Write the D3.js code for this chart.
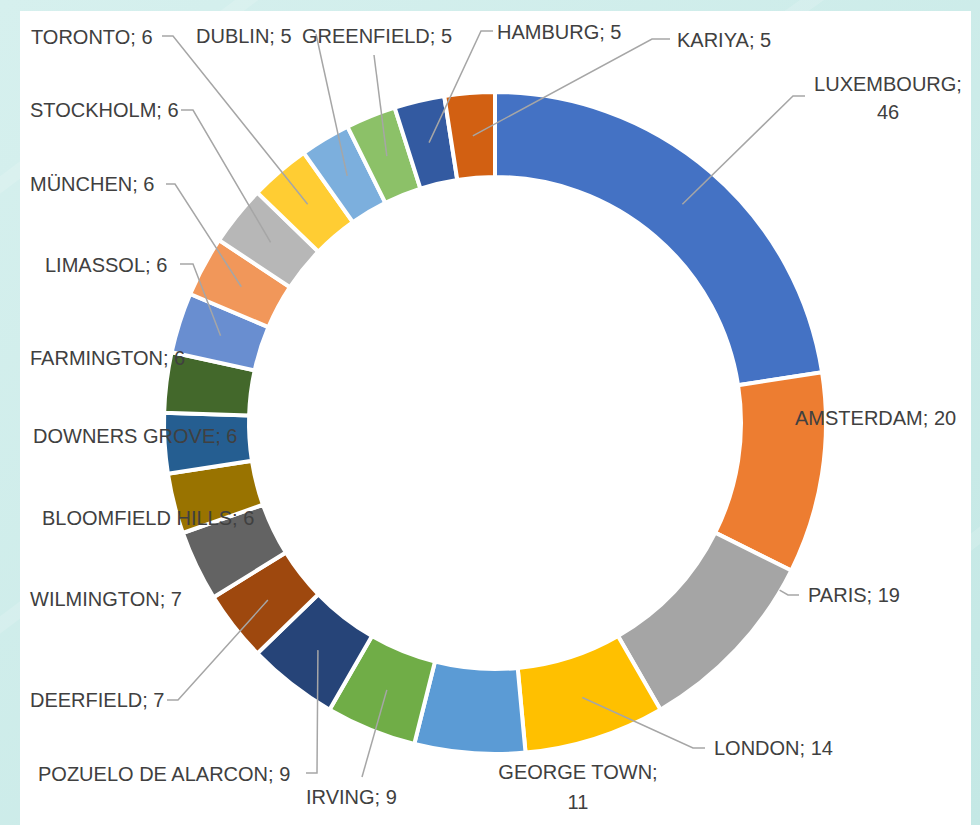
<!DOCTYPE html>
<html>
<head>
<meta charset="utf-8">
<script src="https://cdn.jsdelivr.net/npm/d3@7"></script>
<style>
  html, body { margin: 0; padding: 0; background: #cdeceA; }
  svg { display: block; }
</style>
</head>
<body>
<svg id="chart" width="980" height="825"></svg>
<script>
// ---- data ----
const categories = ["LUXEMBOURG", "AMSTERDAM", "PARIS", "LONDON", "GEORGE TOWN", "IRVING",
  "POZUELO DE ALARCON", "DEERFIELD", "WILMINGTON", "BLOOMFIELD HILLS", "DOWNERS GROVE",
  "FARMINGTON", "LIMASSOL", "MÜNCHEN", "STOCKHOLM", "TORONTO", "DUBLIN", "GREENFIELD",
  "HAMBURG", "KARIYA"];
const values = [46, 20, 19, 14, 11, 9, 9, 7, 7, 6, 6, 6, 6, 6, 6, 6, 5, 5, 5, 5];
const colors = ["#4472C4", "#ED7D31", "#A5A5A5", "#FFC000", "#5B9BD5", "#70AD47",
  "#264478", "#9E480E", "#636363", "#997300", "#255E91", "#43682B", "#698ED0",
  "#F1975A", "#B7B7B7", "#FFCD33", "#7CAFDD", "#8CC168", "#335AA1", "#D26012"];

// ---- label layout (text anchor x, centre y, anchor, line break, leader elbow/end) ----
const labelLayout = {
  "LUXEMBOURG":         {x: 888, y: 84,  anchor: "middle", split: true, dy2: 28, elbow: [793, 96], end: 805},
  "AMSTERDAM":          {x: 795, y: 418, anchor: "start"},
  "PARIS":              {x: 808, y: 595, anchor: "start", elbow: [788, 595], end: 799, fromEdge: true},
  "LONDON":             {x: 714, y: 748, anchor: "start", elbow: [693, 748], end: 705},
  "GEORGE TOWN":        {x: 578, y: 772, anchor: "middle", split: true, dy2: 30},
  "IRVING":             {x: 306, y: 797, anchor: "start", elbow: [362, 777]},
  "POZUELO DE ALARCON": {x: 38,  y: 774, anchor: "start", elbow: [317, 773], end: 306},
  "DEERFIELD":          {x: 30,  y: 700, anchor: "start", elbow: [178, 700], end: 167},
  "WILMINGTON":         {x: 30,  y: 599, anchor: "start"},
  "BLOOMFIELD HILLS":   {x: 42,  y: 518, anchor: "start"},
  "DOWNERS GROVE":      {x: 33,  y: 436, anchor: "start"},
  "FARMINGTON":         {x: 30,  y: 358, anchor: "start"},
  "LIMASSOL":           {x: 45,  y: 265, anchor: "start", elbow: [193, 264], end: 180},
  "MÜNCHEN":            {x: 30,  y: 184, anchor: "start", elbow: [175, 184], end: 166},
  "STOCKHOLM":          {x: 30,  y: 110, anchor: "start", elbow: [193, 110], end: 181},
  "TORONTO":            {x: 31,  y: 37,  anchor: "start", elbow: [173, 36], end: 162},
  "DUBLIN":             {x: 196, y: 36,  anchor: "start", elbow: [316, 34]},
  "GREENFIELD":         {x: 302, y: 36,  anchor: "start", elbow: [374, 55]},
  "HAMBURG":            {x: 497, y: 32,  anchor: "start", elbow: [481, 31], end: 493},
  "KARIYA":             {x: 677, y: 40,  anchor: "start", elbow: [652, 39], end: 670}
};

const svg = d3.select("#chart");
const W = 980, H = 825;

// ---- background ----
const defs = svg.append("defs");
const bg = defs.append("linearGradient").attr("id", "bg")
  .attr("x1", "0").attr("y1", "0").attr("x2", "1").attr("y2", "1");
bg.append("stop").attr("offset", "0%").attr("stop-color", "#d6f0ee");
bg.append("stop").attr("offset", "100%").attr("stop-color", "#c4e8e5");
svg.append("rect").attr("width", W).attr("height", H).attr("fill", "url(#bg)");
const streaks = [[-100, 260, 300, -40], [-100, 700, 500, 250], [600, 825, 1000, 520], [700, 80, 980, -120]];
svg.append("g").selectAll("line").data(streaks).join("line")
  .attr("x1", d => d[0]).attr("y1", d => d[1]).attr("x2", d => d[2]).attr("y2", d => d[3])
  .attr("stroke", "#ffffff").attr("stroke-opacity", 0.15).attr("stroke-width", 14);

// chart area
svg.append("rect").attr("x", 20).attr("y", 11).attr("width", 951).attr("height", H - 11)
  .attr("fill", "#ffffff");

// ---- donut ----
const cx = 495, cy = 423;
const rOuter = 331, rInner = 246, rMid = 288;
const data = categories.map((c, i) => ({name: c, value: values[i], color: colors[i]}));
const pie = d3.pie().value(d => d.value).sort(null).startAngle(0).endAngle(2 * Math.PI);
const arcs = pie(data);
const arc = d3.arc().innerRadius(rInner).outerRadius(rOuter);
const mid = d3.arc().innerRadius(rMid).outerRadius(rMid);

const g = svg.append("g").attr("transform", `translate(${cx},${cy})`);
g.selectAll("path.slice").data(arcs).join("path")
  .attr("class", "slice")
  .attr("d", arc)
  .attr("fill", d => d.data.color)
  .attr("stroke", "#ffffff")
  .attr("stroke-width", 4)
  .attr("stroke-linejoin", "miter");

// ---- leader lines ----
const leaders = svg.append("g").attr("fill", "none").attr("stroke", "#A6A6A6").attr("stroke-width", 1.5);
arcs.forEach(a => {
  const L = labelLayout[a.data.name];
  if (!L || !L.elbow) return;
  let start;
  if (L.fromEdge) {
    const ang = Math.atan2(L.elbow[1] - cy, L.elbow[0] - cx);
    start = [cx + (rOuter - 1) * Math.cos(ang), cy + (rOuter - 1) * Math.sin(ang)];
  } else {
    const c = mid.centroid(a);
    start = [cx + c[0], cy + c[1]];
  }
  const pts = [start, L.elbow];
  if (L.end !== undefined) pts.push([L.end, L.elbow[1]]);
  leaders.append("path").attr("d", d3.line()(pts));
});

// ---- labels ----
const labels = svg.append("g")
  .attr("font-family", "'Liberation Sans', Arial, sans-serif")
  .attr("font-size", 20)
  .attr("fill", "#404040");
arcs.forEach(a => {
  const L = labelLayout[a.data.name];
  if (!L) return;
  const t = labels.append("text")
    .attr("x", L.x).attr("y", L.y)
    .attr("text-anchor", L.anchor)
    .attr("dominant-baseline", "central");
  if (L.split) {
    t.append("tspan").attr("x", L.x).attr("y", L.y).text(a.data.name + ";");
    t.append("tspan").attr("x", L.x).attr("y", L.y + L.dy2).text(a.data.value);
  } else {
    t.text(a.data.name + "; " + a.data.value);
  }
});
</script>
</body>
</html>
